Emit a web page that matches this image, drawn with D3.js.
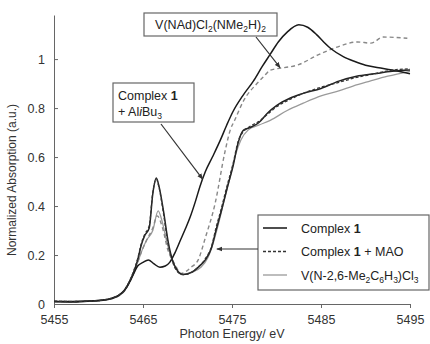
<!DOCTYPE html>
<html>
<head>
<meta charset="utf-8">
<script src="https://cdn.jsdelivr.net/npm/d3@7"></script>
<style>
  body { margin: 0; background: #fff; }
  svg { font-family: "Liberation Sans", Arial, sans-serif; }
  .axis path, .axis line { stroke: #666; }
  .axis text { fill: #333; font-size: 12.5px; }
</style>
</head>
<body>
<svg width="430" height="344"></svg>
<script>
// energy (eV) / normalized absorption
const complex1E = [5455, 5457, 5459, 5460.5, 5461.5, 5462.3, 5462.9, 5463.4, 5463.9, 5464.4, 5464.8, 5465.2, 5465.7, 5466.1, 5466.5, 5466.8, 5467.3, 5467.8, 5468.3, 5468.8, 5469.5, 5470.5, 5471.2, 5472, 5472.7, 5473.2, 5473.8, 5474.5, 5475.1, 5475.7, 5476.3, 5477, 5478, 5479, 5480, 5481.5, 5483, 5485, 5487, 5489, 5491, 5493, 5495];
const complex1Y = [0.01, 0.008, 0.012, 0.015, 0.022, 0.035, 0.055, 0.085, 0.125, 0.18, 0.24, 0.28, 0.31, 0.45, 0.514, 0.48, 0.38, 0.26, 0.18, 0.14, 0.12, 0.13, 0.15, 0.18, 0.23, 0.30, 0.38, 0.48, 0.56, 0.66, 0.71, 0.72, 0.74, 0.78, 0.81, 0.84, 0.86, 0.88, 0.91, 0.93, 0.94, 0.95, 0.955];

const maoE = [5455, 5457, 5459, 5460.5, 5461.5, 5462.3, 5462.9, 5463.4, 5463.9, 5464.4, 5464.8, 5465.2, 5465.7, 5466.1, 5466.5, 5466.8, 5467.3, 5467.8, 5468.3, 5468.8, 5469.5, 5470.5, 5471.2, 5472, 5472.7, 5473.2, 5473.8, 5474.5, 5475.1, 5475.7, 5476.3, 5477, 5478, 5479, 5480, 5481.5, 5483, 5485, 5487, 5489, 5491, 5493, 5495];
const maoY = [0.012, 0.01, 0.012, 0.016, 0.024, 0.037, 0.057, 0.088, 0.13, 0.185, 0.245, 0.285, 0.32, 0.455, 0.51, 0.475, 0.37, 0.25, 0.175, 0.135, 0.12, 0.13, 0.15, 0.185, 0.235, 0.31, 0.39, 0.49, 0.57, 0.665, 0.705, 0.725, 0.745, 0.775, 0.805, 0.835, 0.86, 0.885, 0.905, 0.925, 0.94, 0.955, 0.96];

const vArE = [5455, 5457, 5459, 5460.5, 5461.5, 5462.3, 5462.9, 5463.4, 5463.9, 5464.4, 5464.9, 5465.4, 5466.1, 5466.7, 5467.2, 5467.7, 5468.2, 5468.8, 5469.3, 5470.5, 5471.5, 5472.3, 5472.9, 5473.5, 5474.1, 5474.8, 5475.4, 5476, 5476.8, 5478, 5479.3, 5481.2, 5483, 5485, 5487, 5488.6, 5490.5, 5492.5, 5495];
const vArY = [0.01, 0.01, 0.011, 0.015, 0.022, 0.034, 0.053, 0.082, 0.12, 0.17, 0.22, 0.26, 0.30, 0.38, 0.33, 0.25, 0.19, 0.14, 0.12, 0.13, 0.15, 0.19, 0.25, 0.33, 0.42, 0.52, 0.61, 0.67, 0.71, 0.73, 0.75, 0.79, 0.82, 0.85, 0.87, 0.89, 0.91, 0.93, 0.95];

const vNAdE = [5455, 5457, 5459, 5460.5, 5461.5, 5462.3, 5462.9, 5463.4, 5463.9, 5464.4, 5464.9, 5465.4, 5466.1, 5466.6, 5467.2, 5467.8, 5468.5, 5469.3, 5470.4, 5471.2, 5472, 5473.1, 5474.2, 5474.8, 5475.3, 5476.3, 5477.8, 5478.6, 5479.3, 5480.5, 5482.4, 5484.6, 5486.9, 5489.1, 5490.6, 5492, 5494.7];
const vNAdY = [0.01, 0.01, 0.012, 0.015, 0.022, 0.034, 0.053, 0.082, 0.12, 0.17, 0.22, 0.26, 0.31, 0.36, 0.31, 0.22, 0.167, 0.125, 0.15, 0.18, 0.27, 0.41, 0.62, 0.71, 0.75, 0.83, 0.90, 0.93, 0.955, 0.963, 0.976, 1.016, 1.05, 1.07, 1.065, 1.09, 1.085];

const alE = [5455, 5457, 5459, 5460.5, 5461.5, 5462.3, 5462.9, 5463.4, 5463.9, 5464.4, 5465, 5465.6, 5466.2, 5466.9, 5467.5, 5468, 5468.6, 5469.2, 5469.8, 5470.3, 5470.9, 5471.4, 5472, 5472.8, 5473.7, 5474.4, 5475.1, 5476.2, 5477.4, 5478.4, 5479.3, 5480.2, 5481.2, 5482.5, 5483.5, 5484.5, 5485.3, 5486.2, 5487.5, 5488.8, 5490, 5491.5, 5493, 5495];
const alY = [0.01, 0.01, 0.012, 0.016, 0.024, 0.036, 0.055, 0.083, 0.12, 0.155, 0.17, 0.18, 0.165, 0.15, 0.155, 0.17, 0.21, 0.26, 0.31, 0.355, 0.42, 0.48, 0.54, 0.60, 0.67, 0.73, 0.785, 0.85, 0.91, 0.97, 1.02, 1.07, 1.11, 1.14, 1.13, 1.10, 1.07, 1.04, 1.01, 0.99, 0.975, 0.965, 0.955, 0.94];

const xTicks = [5455, 5465, 5475, 5485, 5495];
const yTicks = [0, 0.2, 0.4, 0.6, 0.8, 1];

const svg = d3.select('svg');

const x = d3.scaleLinear().domain([5455, 5495]).range([54, 410]);
const y = d3.scaleLinear().domain([0, 1.18]).range([304, 15]);

// axes
svg.append('g')
  .attr('class', 'axis')
  .attr('transform', 'translate(0,304)')
  .call(d3.axisBottom(x).tickValues(xTicks).tickSize(4).tickSizeOuter(0).tickFormat(d3.format('d')))
  .call(g => g.selectAll('text').attr('dy', '1.05em'));

svg.append('g')
  .attr('class', 'axis')
  .attr('transform', 'translate(54,0)')
  .call(d3.axisLeft(y).tickValues(yTicks).tickSize(-4).tickSizeOuter(0).tickFormat(d => d === 0 || d === 1 ? d : d3.format('.1f')(d)))
  .call(g => g.selectAll('text').attr('x', -9));

svg.append('text')
  .attr('x', 232).attr('y', 338)
  .attr('text-anchor', 'middle')
  .attr('font-size', 12.5).attr('fill', '#333')
  .text('Photon Energy/ eV');

svg.append('text')
  .attr('transform', 'translate(16,180) rotate(-90)')
  .attr('text-anchor', 'middle')
  .attr('font-size', 12).attr('fill', '#333')
  .text('Normalized Absorption (a.u.)');

// curves
const line = d3.line().x(d => x(d[0])).y(d => y(d[1])).curve(d3.curveMonotoneX);
const pair = (es, ys) => es.map((e, i) => [e, ys[i]]);

const series = [
  { e: vArE, v: vArY, color: '#9a9a9a', width: 1.3, dash: null },
  { e: vNAdE, v: vNAdY, color: '#888', width: 1.4, dash: '4,3' },
  { e: alE, v: alY, color: '#1a1a1a', width: 1.5, dash: null },
  { e: complex1E, v: complex1Y, color: '#222', width: 1.5, dash: null },
  { e: maoE, v: maoY, color: '#333', width: 1.3, dash: '3,2' }
];

series.forEach(s => {
  svg.append('path')
    .datum(pair(s.e, s.v))
    .attr('fill', 'none')
    .attr('stroke', s.color)
    .attr('stroke-width', s.width)
    .attr('stroke-dasharray', s.dash)
    .attr('d', line);
});

// arrowhead
svg.append('defs').append('marker')
  .attr('id', 'arr')
  .attr('viewBox', '0 0 10 10')
  .attr('refX', 9).attr('refY', 5)
  .attr('markerWidth', 5).attr('markerHeight', 5)
  .attr('orient', 'auto')
  .append('path').attr('d', 'M0,1L10,5L0,9z').attr('fill', '#333');

const callout = (x1, y1, x2, y2) => svg.append('line')
  .attr('x1', x1).attr('y1', y1).attr('x2', x2).attr('y2', y2)
  .attr('stroke', '#333').attr('stroke-width', 1.2)
  .attr('marker-end', 'url(#arr)');

// V(NAd) callout
svg.append('rect').attr('x', 144).attr('y', 13).attr('width', 133).attr('height', 23)
  .attr('fill', '#fff').attr('stroke', '#666').attr('stroke-width', 1.2);
const t1 = svg.append('text').attr('x', 210.5).attr('y', 29).attr('text-anchor', 'middle')
  .attr('font-size', 12.5).attr('fill', '#222');
t1.append('tspan').text('V(NAd)Cl');
t1.append('tspan').attr('font-size', 8.5).attr('dy', 3).text('2');
t1.append('tspan').attr('dy', -3).text('(NMe');
t1.append('tspan').attr('font-size', 8.5).attr('dy', 3).text('2');
t1.append('tspan').attr('dy', -3).text('H)');
t1.append('tspan').attr('font-size', 8.5).attr('dy', 3).text('2');
callout(256, 37, x(5480.4), y(0.965));

// AliBu3 callout
svg.append('rect').attr('x', 113).attr('y', 83).attr('width', 81).attr('height', 39)
  .attr('fill', '#fff').attr('stroke', '#666').attr('stroke-width', 1.2);
const t2 = svg.append('text').attr('x', 118).attr('y', 100).attr('font-size', 12.5).attr('fill', '#222');
t2.append('tspan').text('Complex ');
t2.append('tspan').attr('font-weight', 'bold').text('1');
const t3 = svg.append('text').attr('x', 118).attr('y', 116).attr('font-size', 12.5).attr('fill', '#222');
t3.append('tspan').text('+ Al');
t3.append('tspan').attr('font-style', 'italic').text('i');
t3.append('tspan').text('Bu');
t3.append('tspan').attr('font-size', 8.5).attr('dy', 3).text('3');
callout(161, 124, x(5471.7), y(0.51));

// legend
const legItems = [
  { color: '#222', width: 1.6, dash: null, parts: [['Complex ', null], ['1', 'b']] },
  { color: '#333', width: 1.4, dash: '3,2', parts: [['Complex ', null], ['1', 'b'], [' + MAO', null]] },
  { color: '#9a9a9a', width: 1.3, dash: null, parts: [['V(N-2,6-Me', null], ['2', 's'], ['C', null], ['6', 's'], ['H', null], ['3', 's'], [')Cl', null], ['3', 's']] }
];

const leg = svg.append('g');
leg.append('rect').attr('x', 258).attr('y', 215).attr('width', 171).attr('height', 75)
  .attr('fill', '#fff').attr('stroke', '#666').attr('stroke-width', 1.2);
callout(258, 249, x(5473.3), 249);

legItems.forEach((it, i) => {
  const yy = 228 + i * 23.5;
  leg.append('line').attr('x1', 263).attr('x2', 287).attr('y1', yy).attr('y2', yy)
    .attr('stroke', it.color).attr('stroke-width', it.width).attr('stroke-dasharray', it.dash);
  const t = leg.append('text').attr('x', 301).attr('y', yy + 4.5).attr('font-size', 12.5).attr('fill', '#222');
  let shifted = false;
  it.parts.forEach(([s, k]) => {
    const ts = t.append('tspan').text(s);
    if (k === 'b') ts.attr('font-weight', 'bold');
    if (k === 's') { ts.attr('font-size', 8.5).attr('dy', shifted ? 0 : 3); shifted = true; }
    else if (shifted) { ts.attr('dy', -3); shifted = false; }
  });
});
</script>
</body>
</html>
